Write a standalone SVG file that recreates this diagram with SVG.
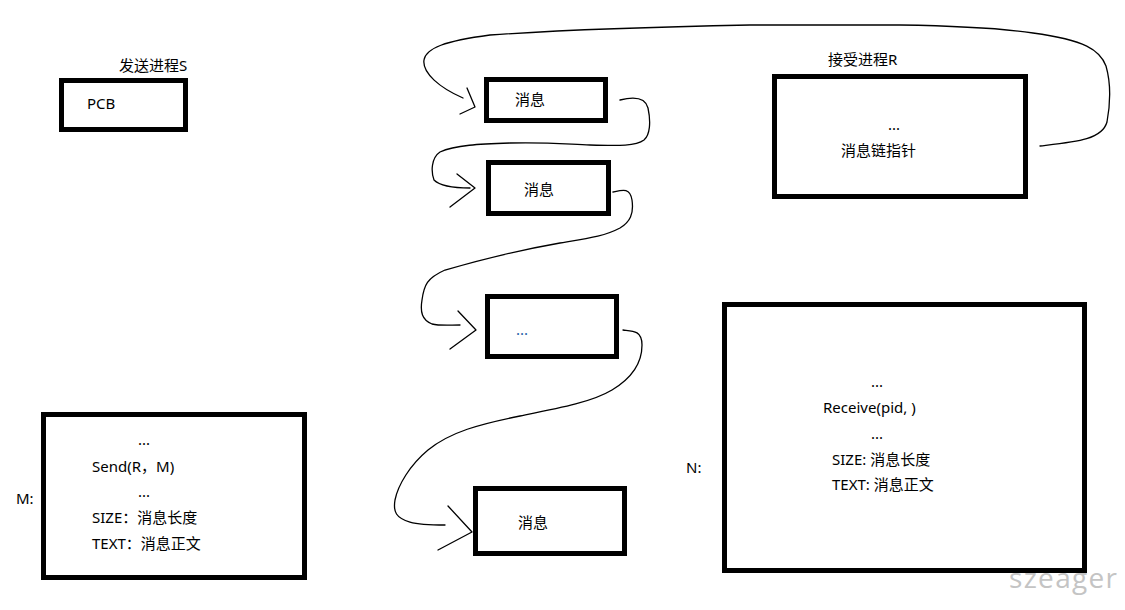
<svg xmlns="http://www.w3.org/2000/svg" width="1125" height="610" viewBox="0 0 1125 610">
  <style>
    .box { fill: #ffffff; stroke: #000000; stroke-width: 5; }
    .t { font-family: "Noto Sans", "Noto Sans CJK SC", sans-serif; font-size: 15px; fill: #000000; }
    .blue { fill: #1f5fa8; }
    .wire { fill: none; stroke: #000000; stroke-width: 1.3; stroke-linejoin: round; stroke-linecap: round; }
    .mark { font-family: "Open Sans", "Noto Sans", sans-serif; font-size: 28px; fill: #c4c4c4; }
  </style>
  <rect width="1125" height="610" fill="#ffffff"/>

  <!-- hand-drawn message chain -->
  <g id="connectors">
    <!-- R's message-chain pointer to the first message -->
    <path class="wire" d="M1040,146 C1075,142 1102,140 1107,122 C1111,100 1110,80 1106,66 C1100,50 1085,40 1033,33 C1000,28 960,26 900,25 L750,25 C650,27 560,30 490,35 C445,41 426,48 424,60 C422,73 440,88 463,98"/>
    <polyline class="wire" points="467,88 475,107 460,114"/>

    <path class="wire" d="M620,100 C632,97 645,96 648,108 C651,122 650,135 644,140 C636,146 620,146 590,145 C565,144 545,142 510,143 C480,144 455,145 440,152 C431,158 431,172 434,180 C440,186 455,188 470,188"/>
    <polyline class="wire" points="457,174 475,188 450,207"/>

    <path class="wire" d="M613,192 C622,190 630,187 632,200 C634,214 630,222 620,228 C605,236 590,238 560,243 C520,250 480,260 445,270 C427,278 424,285 422,300 C420,312 422,320 432,324 C440,326 450,325 460,325"/>
    <polyline class="wire" points="458,311 476,330 450,349"/>

    <path class="wire" d="M623,330 C632,331 642,330 642,345 C642,362 632,378 612,390 C592,402 560,408 520,416 C480,424 450,432 428,450 C410,465 398,485 395,500 C393,512 396,518 410,522 C420,525 432,525 445,525"/>
    <polyline class="wire" points="448,506 472,532 438,550"/>
  </g>

  <g id="sender">
    <text class="t" x="119" y="71">发送进程S</text>
    <rect class="box" x="61.5" y="80.5" width="124" height="49"/>
    <text class="t" x="87" y="109">PCB</text>
  </g>

  <g id="msg1">
    <rect class="box" x="486.5" y="79.5" width="119" height="41"/>
    <text class="t" x="515" y="105">消息</text>
  </g>

  <g id="msg2">
    <rect class="box" x="488.5" y="162.5" width="120" height="51"/>
    <text class="t" x="524" y="195">消息</text>
  </g>

  <g id="msg3">
    <rect class="box" x="487.5" y="296.5" width="129" height="60"/>
    <text class="t blue" x="516" y="335">...</text>
  </g>

  <g id="msg4">
    <rect class="box" x="475.5" y="488.5" width="149" height="65"/>
    <text class="t" x="518" y="528">消息</text>
  </g>

  <g id="receiver">
    <text class="t" x="828" y="65">接受进程R</text>
    <rect class="box" x="774.5" y="76.5" width="251" height="120"/>
    <text class="t" x="888" y="130">...</text>
    <text class="t" x="841" y="156">消息链指针</text>
  </g>

  <g id="sendcode">
    <text class="t" x="16" y="504">M:</text>
    <rect class="box" x="43.5" y="414.5" width="261" height="163"/>
    <text class="t" x="138" y="445">...</text>
    <text class="t" x="92" y="472">Send(R，M)</text>
    <text class="t" x="138" y="497">...</text>
    <text class="t" x="92" y="523">SIZE：消息长度</text>
    <text class="t" x="92" y="549">TEXT：消息正文</text>
  </g>

  <g id="recvcode">
    <text class="t" x="686" y="473">N:</text>
    <rect class="box" x="724.5" y="304.5" width="360" height="266"/>
    <text class="t" x="871" y="387">...</text>
    <text class="t" x="823" y="413">Receive(pid, )</text>
    <text class="t" x="871" y="439">...</text>
    <text class="t" x="832" y="465">SIZE: 消息长度</text>
    <text class="t" x="832" y="490">TEXT: 消息正文</text>
  </g>

  <text class="mark" x="1009" y="588" textLength="108" lengthAdjust="spacing">szeager</text>
</svg>
